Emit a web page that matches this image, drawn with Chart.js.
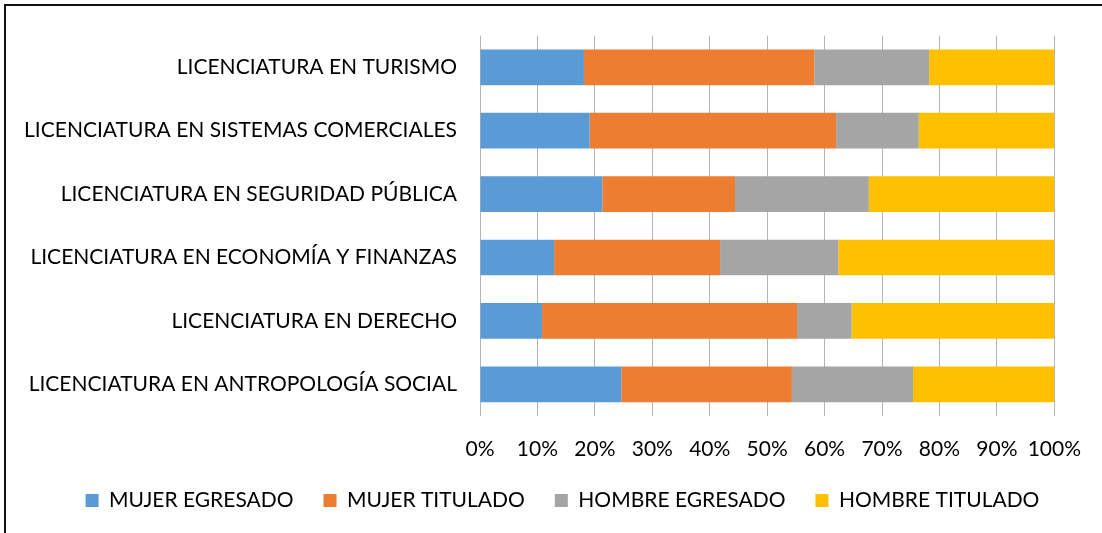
<!DOCTYPE html>
<html>
<head>
<meta charset="utf-8">
<script src="https://cdn.jsdelivr.net/npm/chart.js@4.4.1/dist/chart.umd.min.js"></script>
<style>
  html, body { margin: 0; padding: 0; background: #fff; }
  #wrap { position: relative; width: 1102px; height: 533px; overflow: hidden; }
  #marco { position: absolute; left: 4px; top: 4px; width: 1200px; height: 600px; border: 2px solid #111; box-sizing: border-box; pointer-events: none; }
  canvas { position: absolute; left: 0; top: 0; }
</style>
</head>
<body>
<div id="wrap">
  <canvas id="grafico" width="1102" height="533"></canvas>
  <div id="marco"></div>
</div>
<script>
const carreras = [
  'LICENCIATURA EN TURISMO',
  'LICENCIATURA EN SISTEMAS COMERCIALES',
  'LICENCIATURA EN SEGURIDAD PÚBLICA',
  'LICENCIATURA EN ECONOMÍA Y FINANZAS',
  'LICENCIATURA EN DERECHO',
  'LICENCIATURA EN ANTROPOLOGÍA SOCIAL'
];
const mujerEgresado = [18.1, 19.1, 21.3, 12.9, 10.8, 24.6];
const mujerTitulado = [40.1, 42.9, 23.1, 28.9, 44.4, 29.7];
const hombreEgresado = [20.0, 14.4, 23.3, 20.6, 9.5, 21.1];
const hombreTitulado = [21.8, 23.6, 32.3, 37.6, 35.3, 24.6];

const fuente = { family: 'Lato', size: 21 };

function serie(nombre, datos, color) {
  return {
    label: nombre,
    data: datos,
    backgroundColor: color,
    borderWidth: 0,
    barPercentage: 0.5625,
    categoryPercentage: 1
  };
}

// la leyenda del original no está centrada en el lienzo (el gráfico sigue a la derecha)
const moverLeyenda = {
  id: 'moverLeyenda',
  afterLayout(chart) {
    chart.legend.left += 34;
    chart.legend.right += 34;
  }
};

new Chart(document.getElementById('grafico'), {
  type: 'bar',
  data: {
    labels: carreras,
    datasets: [
      serie('MUJER EGRESADO', mujerEgresado, '#5b9bd5'),
      serie('MUJER TITULADO', mujerTitulado, '#ed7d31'),
      serie('HOMBRE EGRESADO', hombreEgresado, '#a5a5a5'),
      serie('HOMBRE TITULADO', hombreTitulado, '#ffc000')
    ]
  },
  options: {
    indexAxis: 'y',
    responsive: false,
    animation: false,
    layout: { padding: { top: 32, right: 45, left: 0, bottom: 12 } },
    scales: {
      x: {
        stacked: true,
        min: 0,
        max: 100,
        border: { display: false },
        grid: { color: '#b4b4b4', drawTicks: false },
        ticks: {
          stepSize: 10,
          padding: 21,
          color: '#000',
          font: fuente,
          maxRotation: 0,
          callback: v => v + '%'
        },
        afterFit: escala => { escala.height = 44; }
      },
      y: {
        stacked: true,
        border: { display: false },
        grid: { display: false, drawTicks: false },
        ticks: { padding: 23, color: '#000', font: fuente, autoSkip: false },
        afterFit: escala => { escala.width = 480; }
      }
    },
    plugins: {
      tooltip: { enabled: false },
      legend: {
        position: 'bottom',
        labels: {
          boxWidth: 13,
          boxHeight: 13,
          padding: 30,
          color: '#000',
          font: fuente
        }
      }
    }
  },
  plugins: [moverLeyenda]
});
</script>
</body>
</html>
